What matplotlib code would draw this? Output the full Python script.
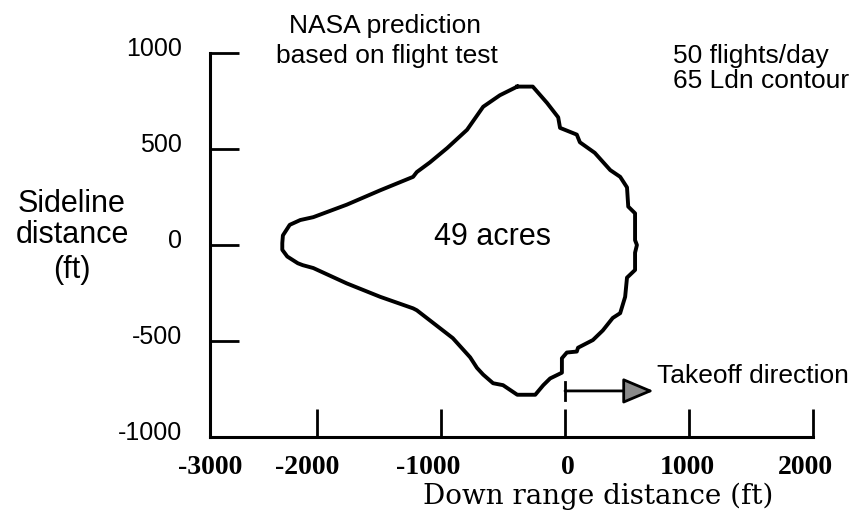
import matplotlib
matplotlib.use("Agg")
import matplotlib.pyplot as plt
import matplotlib.transforms as mtransforms

# 65 Ldn noise contour (down range ft, sideline ft), traced clockwise
contour_x = [-385, -260, -145, -55, -40, 95, 120, 240, 365, 445, 500, 510, 565, 565, 580,
             565, 565, 500, 485, 445, 385, 305, 225, 105, 95, 15, -25, -25, -120, -175,
             -240, -385, -500, -580, -660, -710, -765, -905, -1065, -1195, -1225, -1490,
             -1760, -2030, -2115, -2155, -2240, -2280, -2280, -2275, -2220, -2135, -2030,
             -1760, -1490, -1225, -1195, -1090, -950, -790, -725, -660, -525, -385]
contour_y = [825, 825, 740, 665, 610, 575, 535, 480, 390, 355, 300, 200, 165, 25, 0,
             -40, -130, -170, -270, -355, -380, -445, -495, -535, -555, -560, -590, -665,
             -695, -730, -780, -780, -730, -720, -675, -640, -585, -485, -405, -340, -330,
             -270, -200, -120, -105, -95, -60, -25, 10, 50, 105, 130, 145, 210, 285, 355,
             380, 430, 505, 600, 660, 720, 780, 825]

x_ticks = [-2000, -1000, 0, 1000, 2000]
y_ticks = [-1000, -500, 0, 500, 1000]
y_labels = ["-1000", "-500", "0", "500", "1000"]
x_labels = ["-3000", "-2000", "-1000", "0", "1000", "2000"]
x_label_pos = [-2860, -2080, -1100, 25, 990, 1940]

fig = plt.figure(figsize=(8.59, 5.14), dpi=100)
W, H = 859, 514
ax = fig.add_axes([210 / W, 1 - 437 / H, (813 - 210) / W, (437 - 53) / H])

ax.plot(contour_x, contour_y, color="black", lw=2.8, solid_joinstyle="round")

ax.set_xlim(-2863, 2000)
ax.set_ylim(-1000, 1000)
for s in ["top", "right"]:
    ax.spines[s].set_visible(False)
for s in ["left", "bottom"]:
    ax.spines[s].set_linewidth(2.2)

ax.set_yticks(y_ticks, labels=y_labels)
ax.tick_params(axis="y", direction="in", length=21, width=2, pad=20,
               labelsize=18)
for lab in ax.get_yticklabels():
    lab.set_family("Liberation Sans")
    lab.set_transform(lab.get_transform() +
                      mtransforms.ScaledTranslation(0, 0.07, fig.dpi_scale_trans))

ax.set_xticks(x_ticks, labels=[""] * len(x_ticks))
ax.tick_params(axis="x", which="major", direction="in", length=20, width=2)
ax.set_xticks(x_label_pos, labels=x_labels, minor=True)
ax.tick_params(axis="x", which="minor", length=0, pad=13, labelsize=20)
for lab in ax.get_xticklabels(minor=True):
    lab.set_family("Liberation Serif")
    lab.set_weight("bold")

# takeoff arrow
ax.plot([0, 0], [-715, -805], color="black", lw=2)
ax.annotate("", xy=(715, -760), xytext=(0, -760),
            arrowprops=dict(arrowstyle="-|>,head_length=0.95,head_width=0.4",
                            mutation_scale=20, lw=2, edgecolor="black",
                            facecolor="#8a8a8a", shrinkA=0, shrinkB=0))

sans = "Liberation Sans"
def ftext(px, py, s, size, ha="left", family=sans):
    fig.text(px / W, 1 - py / H, s, fontsize=size, ha=ha, va="baseline",
             family=family)

ftext(385, 33, "NASA prediction", 19, ha="center")
ftext(387, 63, "based on flight test", 19, ha="center")
ftext(673, 63, "50 flights/day", 19)
ftext(673, 88, "65 Ldn contour", 19)
ftext(493, 245, "49 acres", 22, ha="center")
ftext(657, 383, "Takeoff direction", 19)
ftext(72, 212, "Sideline", 22, ha="center")
ftext(72, 243, "distance", 22, ha="center")
ftext(72, 278, "(ft)", 22, ha="center")
ftext(598, 504, "Down range distance (ft)", 20, ha="center", family="DejaVu Serif")

fig.savefig("out.png", dpi=100)
